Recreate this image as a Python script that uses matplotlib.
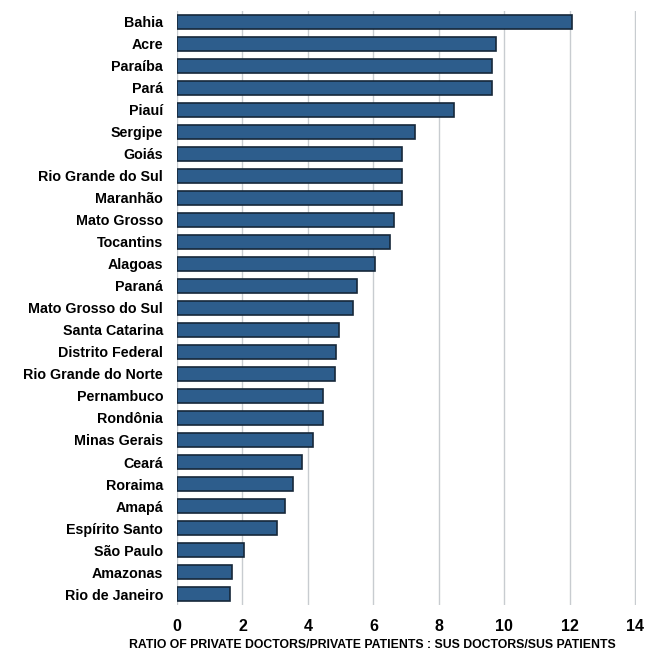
import numpy as np
import matplotlib.pyplot as plt

plt.rcParams['font.family'] = ['Liberation Sans', 'DejaVu Sans']

states = ['Bahia', 'Acre', 'Paraíba', 'Pará', 'Piauí', 'Sergipe', 'Goiás',
          'Rio Grande do Sul', 'Maranhão', 'Mato Grosso', 'Tocantins', 'Alagoas',
          'Paraná', 'Mato Grosso do Sul', 'Santa Catarina', 'Distrito Federal',
          'Rio Grande do Norte', 'Pernambuco', 'Rondônia', 'Minas Gerais', 'Ceará',
          'Roraima', 'Amapá', 'Espírito Santo', 'São Paulo', 'Amazonas',
          'Rio de Janeiro']
ratios = [12.07, 9.75, 9.63, 9.63, 8.47, 7.28, 6.88,
          6.88, 6.87, 6.64, 6.52, 6.06,
          5.51, 5.39, 4.96, 4.87,
          4.84, 4.47, 4.47, 4.14, 3.83,
          3.53, 3.31, 3.04, 2.06, 1.69,
          1.63]
xticks = [0, 2, 4, 6, 8, 10, 12, 14]
xlabel = 'RATIO OF PRIVATE DOCTORS/PRIVATE PATIENTS : SUS DOCTORS/SUS PATIENTS'

fig = plt.figure(figsize=(6.46, 6.55), dpi=100)
ax = fig.add_axes([0.274, 0.0763, 0.711, 0.907])

y = np.arange(len(states))
ax.barh(y, ratios, height=0.64, color='#2d5d8c', edgecolor='#16283a', linewidth=1.2, zorder=3)

ax.set_ylim(len(states) - 0.5, -0.5)
ax.set_xlim(0, 14.03)
ax.set_yticks(y)
ax.set_yticklabels(states, fontsize=10.3, fontweight='bold')
ax.set_xticks(xticks)
ax.set_xticklabels([str(t) for t in xticks], fontsize=11.5, fontweight='bold')
ax.tick_params(length=0, pad=10)
ax.tick_params(axis='x', pad=10)

ax.grid(axis='x', color='#c8ccd0', linewidth=1.0, zorder=0)
for s in ax.spines.values():
    s.set_visible(False)

fig.text(372 / 646, 1 - 645 / 655, xlabel, ha='center', va='center',
         fontsize=8.8, fontweight='bold')

fig.savefig('out.png', dpi=100)
